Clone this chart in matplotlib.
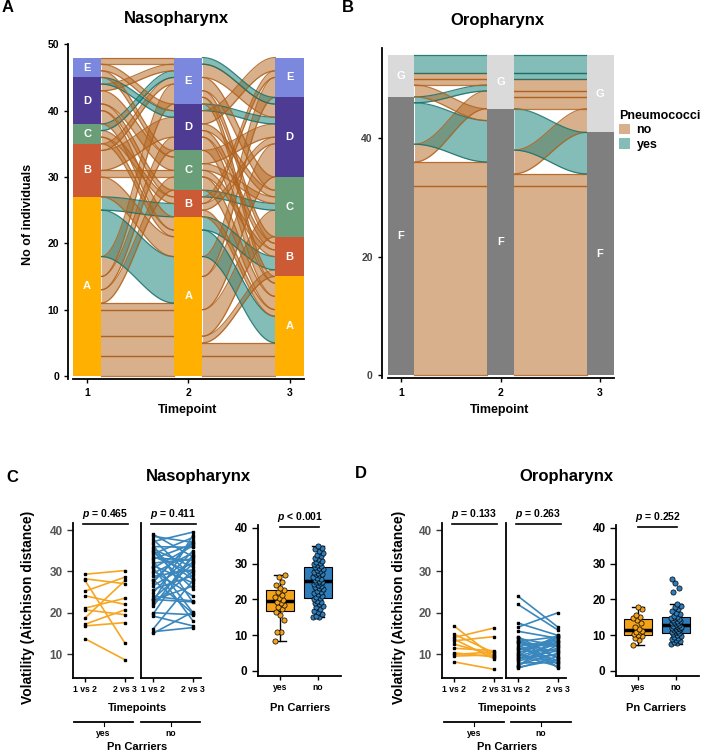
import numpy as np
import matplotlib
matplotlib.use("Agg")
import matplotlib.pyplot as plt
from matplotlib.patches import Patch

plt.rcParams["font.family"] = ["Liberation Sans", "DejaVu Sans"]
plt.rcParams["font.weight"] = "bold"
plt.rcParams["mathtext.fontset"] = "custom"
plt.rcParams["mathtext.rm"] = "Liberation Sans:bold"
plt.rcParams["mathtext.it"] = "Liberation Sans:italic:bold"

W, H = 708, 752

# ---- alluvial data (panels A, B) ----
timepoints = [1, 2, 3]
naso_strata = ["A", "B", "C", "D", "E"]
naso_counts = [[27, 8, 3, 7, 3], [24, 4, 6, 7, 7], [15, 6, 9, 12, 6]]
naso_flows_12 = [
    ("A", "A", "no", 3), ("A", "A", "no", 3), ("A", "A", "no", 4), ("A", "A", "no", 1),
    ("A", "C", "no", 2), ("A", "D", "no", 2), ("A", "E", "no", 3),
    ("A", "A", "yes", 7), ("A", "B", "yes", 2),
    ("B", "A", "no", 3), ("B", "C", "no", 1), ("B", "D", "no", 3), ("B", "E", "no", 1),
    ("C", "A", "no", 1), ("C", "B", "no", 1), ("C", "E", "yes", 1),
    ("D", "A", "no", 2), ("D", "B", "no", 1), ("D", "C", "no", 2), ("D", "E", "no", 1), ("D", "D", "yes", 1),
    ("E", "C", "no", 1), ("E", "D", "no", 1), ("E", "E", "no", 1),
]
naso_flows_23 = [
    ("A", "A", "no", 3), ("A", "A", "no", 2), ("A", "B", "no", 1), ("A", "C", "no", 4),
    ("A", "D", "no", 5), ("A", "E", "no", 3),
    ("A", "A", "yes", 4), ("A", "B", "yes", 2),
    ("B", "A", "no", 1), ("B", "C", "yes", 1), ("B", "D", "no", 1), ("B", "E", "no", 1),
    ("C", "A", "no", 2), ("C", "B", "no", 1), ("C", "C", "no", 1), ("C", "D", "no", 2),
    ("D", "A", "no", 2), ("D", "B", "no", 1), ("D", "C", "no", 1), ("D", "D", "yes", 1), ("D", "E", "no", 2),
    ("E", "A", "no", 1), ("E", "B", "no", 1), ("E", "C", "no", 2), ("E", "D", "no", 2), ("E", "D", "yes", 1),
]
oro_strata = ["F", "G"]
oro_counts = [[47, 7], [45, 9], [41, 13]]
oro_flows_12 = [
    ("F", "F", "no", 32), ("F", "F", "no", 4), ("F", "G", "no", 3),
    ("F", "F", "yes", 7), ("F", "G", "yes", 1),
    ("G", "F", "no", 2), ("G", "G", "no", 1), ("G", "G", "no", 1), ("G", "G", "yes", 3),
]
oro_flows_23 = [
    ("F", "F", "no", 32), ("F", "F", "no", 2), ("F", "G", "no", 4), ("F", "F", "yes", 7),
    ("G", "G", "no", 2), ("G", "G", "no", 1), ("G", "G", "no", 2),
    ("G", "G", "yes", 1), ("G", "G", "yes", 3),
]

# ---- volatility data (panels C, D) ----
naso_yes_12 = [29.3, 28.2, 27.8, 25.2, 24.1, 21.1, 20.7, 18.7, 17.2, 16.8, 13.7]
naso_yes_23 = [30.2, 27.0, 12.6, 28.6, 22.0, 23.5, 19.5, 27.8, 20.7, 17.6, 8.6]
naso_no_12 = [39.0, 38.5, 37.8, 37.2, 36.5, 36.0, 35.4, 34.8, 34.2, 33.6,
              33.0, 32.5, 32.0, 31.4, 30.8, 30.2, 29.5, 28.8, 28.0, 27.3,
              26.5, 25.6, 24.8, 24.0, 23.4, 23.0, 22.6, 22.2, 21.5, 20.0,
              19.6, 19.2, 16.0, 15.4, 15.0, 35.0, 33.3, 31.0, 27.8, 23.2]
naso_no_23 = [33.5, 37.0, 28.5, 39.5, 22.5, 35.8, 31.0, 25.8, 38.2, 29.6,
              36.6, 20.0, 33.0, 27.2, 36.2, 24.0, 34.5, 30.4, 19.8, 37.5,
              32.2, 29.0, 35.0, 22.8, 31.8, 26.5, 38.8, 30.0, 34.0, 19.5,
              33.8, 16.8, 27.8, 16.4, 20.2, 28.0, 32.6, 18.0, 36.9, 22.6]
oro_yes_12 = [16.8, 14.8, 14.0, 13.6, 13.2, 12.4, 11.4, 10.3, 9.9, 9.5, 8.1]
oro_yes_23 = [9.3, 10.3, 16.3, 8.9, 14.2, 9.8, 10.8, 9.3, 10.5, 9.8, 6.3]
oro_no_12 = [24.0, 22.0, 17.5, 16.5, 15.5, 14.2, 13.8, 13.5, 13.0, 12.6,
             12.2, 11.8, 11.5, 11.0, 10.6, 10.2, 9.8, 9.4, 9.0, 8.6,
             8.2, 7.8, 7.4, 7.0, 6.6, 14.0, 12.9, 11.2, 10.0, 8.8, 7.2, 13.2, 9.6, 6.8]
oro_no_23 = [16.5, 15.8, 14.5, 20.0, 13.8, 9.0, 12.0, 7.5, 14.2, 10.5,
             6.8, 13.5, 8.4, 12.8, 11.0, 14.0, 7.0, 12.5, 9.8, 13.0,
             11.5, 8.0, 10.2, 14.4, 9.4, 6.6, 11.8, 13.2, 7.8, 10.8, 12.2, 9.0, 14.6, 8.6]

naso_box_yes = [8.3, 10.8, 11.0, 14.3, 15.7, 16.6, 17.3, 18.0, 18.5, 19.0, 19.4,
                19.9, 20.4, 20.8, 21.3, 22.2, 22.7, 23.2, 24.1, 25.0, 26.4, 26.9]
naso_box_no = [15.0, 15.2, 15.5, 16.0, 16.4, 16.9, 17.3, 17.8, 18.2, 18.6, 19.0, 19.4, 19.7, 20.0, 20.3,
               20.6, 21.0, 21.4, 21.8, 22.1, 22.4, 22.8, 23.1, 23.4, 23.7, 24.0, 24.3, 24.5, 24.8, 25.0,
               25.2, 25.5, 25.8, 26.1, 26.4, 26.7, 27.0, 27.2, 27.5, 27.8, 28.0, 28.3, 28.5, 28.8, 29.0,
               29.3, 29.6, 29.9, 30.2, 30.5, 30.8, 31.2, 31.6, 32.0, 32.5, 33.0, 33.5, 34.0, 34.5, 35.0]
oro_box_yes = [7.3, 8.6, 9.2, 9.8, 10.0, 10.3, 10.8, 11.0, 11.3, 11.6, 12.4, 13.3,
               14.2, 14.8, 15.2, 15.6, 17.4, 17.8]
oro_box_no = [7.5, 7.7, 8.0, 8.3, 8.6, 8.9, 9.2, 9.5, 9.8, 10.1, 10.4, 10.6,
              10.8, 11.0, 11.2, 11.4, 11.6, 11.8, 12.0, 12.1, 12.3, 12.4, 12.6, 12.7,
              12.9, 13.1, 13.3, 13.5, 13.7, 13.9, 14.1, 14.3, 14.5, 14.7, 14.9, 15.0,
              15.4, 15.8, 16.3, 16.8, 17.3, 17.8, 18.3, 18.8, 22.0, 23.2, 24.6, 25.7]

p_labels_naso = ["0.465", "0.411", "< 0.001"]
p_labels_oro = ["0.133", "0.263", "0.252"]
pair_ticks = ["1 vs 2", "2 vs 3"]
carrier_labels = ["yes", "no"]

stratum_colors = {"A": "#FFB000", "B": "#CC5A35", "C": "#6A9E78", "D": "#4E3C94",
                  "E": "#7B88DD", "F": "#7F7F7F", "G": "#DADADA"}
flow_colors = {"no": "#B8712E", "yes": "#1F857C"}
edge_colors = {"no": "#B0621F", "yes": "#16706A"}
FLOW_ALPHA = 0.55
YES_COL = "#F5A21B"
NO_COL = "#2E7DBA"
YES_LINE = "#F6A623"
NO_LINE = "#3A87BD"


def px_axes(fig, left, top, right, bottom):
    return fig.add_axes([left / W, 1 - bottom / H, (right - left) / W, (bottom - top) / H])


def ftext(fig, x, y, s, **kw):
    kw.setdefault("ha", "center")
    kw.setdefault("va", "center")
    kw.setdefault("fontweight", "bold")
    return fig.text(x / W, 1 - y / H, s, **kw)


def alluvial(ax, strata, counts, segments, width, tick_color):
    bottoms = []
    for cnt in counts:
        b = np.concatenate([[0], np.cumsum(cnt)[:-1]])
        bottoms.append(dict(zip(strata, b)))
    t = np.linspace(0, 1, 60)
    s = 0.5 - 0.5 * np.cos(np.pi * t)
    status_rank = {"no": 0, "yes": 1}
    for seg, flows in enumerate(segments):
        xl = timepoints[seg] + width / 2
        xr = timepoints[seg + 1] - width / 2
        xs = xl + (xr - xl) * t
        left_pos, right_pos = {}, {}
        cur = dict(bottoms[seg])
        for k in sorted(range(len(flows)), key=lambda k: (status_rank[flows[k][2]], strata.index(flows[k][1]))):
            src = flows[k][0]
            left_pos[k] = cur[src]
            cur[src] += flows[k][3]
        cur = dict(bottoms[seg + 1])
        for k in sorted(range(len(flows)), key=lambda k: (strata.index(flows[k][0]), status_rank[flows[k][2]])):
            dst = flows[k][1]
            right_pos[k] = cur[dst]
            cur[dst] += flows[k][3]
        for k, (src, dst, st, n) in enumerate(flows):
            lo = left_pos[k] + (right_pos[k] - left_pos[k]) * s
            hi = lo + n
            ax.fill_between(xs, lo, hi, color=flow_colors[st], alpha=FLOW_ALPHA, lw=0)
            ax.plot(xs, lo, color=edge_colors[st], lw=0.9, alpha=0.85)
            ax.plot(xs, hi, color=edge_colors[st], lw=0.9, alpha=0.85)
    for i, cnt in enumerate(counts):
        for name, c in zip(strata, cnt):
            b = bottoms[i][name]
            ax.bar(timepoints[i], c, bottom=b, width=width, color=stratum_colors[name], lw=0, zorder=3)
            ax.text(timepoints[i], b + c / 2, name, color="white", ha="center", va="center",
                    fontsize=8, fontweight="bold", zorder=4)
    for sp in ["top", "right"]:
        ax.spines[sp].set_visible(False)
    ax.spines["left"].set_linewidth(1.3)
    ax.spines["bottom"].set_linewidth(1.3)
    ax.spines["bottom"].set_bounds(timepoints[0] - width / 2, timepoints[-1] + width / 2)
    ax.set_xticks(timepoints)
    ax.set_xticklabels([str(x) for x in timepoints])
    ax.tick_params(axis="both", length=3, width=1, labelsize=7.5, colors="black")
    ax.tick_params(axis="y", labelcolor=tick_color)


def paired(ax_yes, ax_no, y12, y23, n12, n23, pl):
    for ax, a12, a23, col, p in [(ax_yes, y12, y23, YES_LINE, pl[0]), (ax_no, n12, n23, NO_LINE, pl[1])]:
        for a, b in zip(a12, a23):
            ax.plot([1, 2], [a, b], color=col, lw=1.2, zorder=2)
        ax.plot([1] * len(a12), a12, "s", color="black", ms=1.8, zorder=3)
        ax.plot([2] * len(a23), a23, "s", color="black", ms=1.8, zorder=3)
        ax.set_xlim(0.7, 2.2)
        ax.set_ylim(4.2, 41.7)
        ax.set_xticks([1, 2])
        ax.set_xticklabels(pair_ticks)
        ax.tick_params(axis="x", length=3, width=1, labelsize=6.2, pad=2)
        for sp in ["top", "right"]:
            ax.spines[sp].set_visible(False)
        ax.spines["left"].set_linewidth(1.3)
        ax.spines["bottom"].set_linewidth(1.3)
        ax.plot([0.95, 2.07], [41.45, 41.45], color="black", lw=1.2, clip_on=False)
        ax.text(1.51, 42.2, r"$\mathit{p}$ = " + p, ha="center", va="bottom", fontsize=7.5,
                fontweight="bold")
    ax_yes.set_yticks([10, 20, 30, 40])
    ax_yes.tick_params(axis="y", length=4, width=1, labelsize=8.5, labelcolor="#555555", color="#333333")
    ax_no.set_yticks([])


def boxes(ax, yes, no, p):
    data = [yes, no]
    bp = ax.boxplot(data, positions=[1, 2], widths=0.75, patch_artist=True, showfliers=False,
                    capwidths=0.32,
                    medianprops=dict(color="black", lw=2.5),
                    whiskerprops=dict(color="black", lw=1),
                    capprops=dict(color="black", lw=1),
                    boxprops=dict(edgecolor="black", lw=0.8))
    for patch, col in zip(bp["boxes"], [YES_COL, NO_COL]):
        patch.set_facecolor(col)
    for i, (vals, col) in enumerate(zip(data, [YES_COL, NO_COL])):
        vals = np.asarray(vals)
        offs = ((np.arange(len(vals)) * 0.618034) % 1.0 - 0.5) * 0.26
        ax.scatter(i + 1 + offs, vals, s=14, facecolor=col, edgecolor="black", lw=0.5, zorder=4)
    ax.set_xlim(0.42, 2.6)
    ax.set_ylim(-1.4, 40.8)
    ax.set_yticks([0, 10, 20, 30, 40])
    ax.set_xticks([1, 2])
    ax.set_xticklabels(carrier_labels)
    ax.tick_params(axis="x", length=3, width=1, labelsize=6.2, pad=2)
    ax.tick_params(axis="y", length=4, width=1, labelsize=8.5)
    for sp in ["top", "right"]:
        ax.spines[sp].set_visible(False)
    ax.spines["left"].set_linewidth(1.3)
    ax.spines["bottom"].set_linewidth(1.3)
    ax.plot([1.0, 2.03], [40.3, 40.3], color="black", lw=1.2, clip_on=False)
    ax.text(1.52, 41.0, r"$\mathit{p}$ " + ("= " + p if not p.startswith("<") else p),
            ha="center", va="bottom", fontsize=7.5, fontweight="bold")


fig = plt.figure(figsize=(W / 100, H / 100), dpi=100)
fig.patch.set_facecolor("white")

# Panel A
axA = px_axes(fig, 68, 44.3, 309.75, 379.3)
alluvial(axA, naso_strata, naso_counts, [naso_flows_12, naso_flows_23], 0.28, "black")
axA.set_xlim(0.812, 3.2)
axA.set_ylim(-0.5, 50)
axA.set_yticks([0, 10, 20, 30, 40, 50])
ftext(fig, 8, 8, "A", fontsize=12)
ftext(fig, 176, 18, "Nasopharynx", fontsize=12)
ftext(fig, 28, 214, "No of individuals", fontsize=9, rotation=90)
ftext(fig, 188, 410, "Timepoint", fontsize=9)

# Panel B
axB = px_axes(fig, 381.7, 47.8, 620, 378.5)
alluvial(axB, oro_strata, oro_counts, [oro_flows_12, oro_flows_23], 0.27, "#444444")
axB.set_xlim(0.806, 3.2)
axB.set_ylim(-0.6, 55.3)
axB.set_yticks([0, 20, 40])
ftext(fig, 348, 8, "B", fontsize=12)
ftext(fig, 497, 20, "Oropharynx", fontsize=12)
ftext(fig, 500, 410, "Timepoint", fontsize=9)
handles = [Patch(facecolor=flow_colors[k], alpha=FLOW_ALPHA, edgecolor="none", label=k) for k in ["no", "yes"]]
fig.legend(handles=handles, title="Pneumococci", loc="upper left", bbox_to_anchor=(619 / W, 1 - 110 / H),
           frameon=False, prop={"weight": "bold", "size": 9},
           title_fontproperties={"weight": "bold", "size": 9},
           handlelength=0.9, handleheight=0.9, handletextpad=0.5, labelspacing=0.15,
           borderpad=0, borderaxespad=0, alignment="left")

# Panel C
axCy = px_axes(fig, 73, 523, 133, 678)
axCn = px_axes(fig, 141, 523, 201, 678)
paired(axCy, axCn, naso_yes_12, naso_yes_23, naso_no_12, naso_no_23, p_labels_naso)
axCb = px_axes(fig, 258, 525, 341, 676)
boxes(axCb, naso_box_yes, naso_box_no, p_labels_naso[2])
ftext(fig, 12, 477, "C", fontsize=12)
ftext(fig, 198, 477, "Nasopharynx", fontsize=12)
ftext(fig, 28, 607, "Volatility (Aitchison distance)", fontsize=10, rotation=90)

# Panel D
axDy = px_axes(fig, 442, 523, 502, 678)
axDn = px_axes(fig, 506, 523, 566, 678)
paired(axDy, axDn, oro_yes_12, oro_yes_23, oro_no_12, oro_no_23, p_labels_oro)
axDb = px_axes(fig, 616, 525, 699, 676)
boxes(axDb, oro_box_yes, oro_box_no, p_labels_oro[2])
ftext(fig, 361, 473, "D", fontsize=12)
ftext(fig, 566, 477, "Oropharynx", fontsize=12)
ftext(fig, 399, 607, "Volatility (Aitchison distance)", fontsize=10, rotation=90)

# group annotations under the paired plots
for (gy0, gy1, gn0, gn1, bx) in [(74, 133, 141, 200, 300), (444, 504, 511, 571, 656)]:
    ftext(fig, (gy0 + gn1) / 2, 708, "Timepoints", fontsize=8)
    ftext(fig, bx, 708, "Pn Carriers", fontsize=8)
    for a, b, lab in [(gy0, gy1, carrier_labels[0]), (gn0, gn1, carrier_labels[1])]:
        fig.add_artist(plt.Line2D([a / W, b / W], [1 - 722 / H, 1 - 722 / H], color="black", lw=1.3))
        m = (a + b) / 2
        fig.add_artist(plt.Line2D([m / W, m / W], [1 - 722 / H, 1 - 726 / H], color="black", lw=0.8))
        ftext(fig, m, 734, lab, fontsize=6.2)
    ftext(fig, (gy0 + gn1) / 2, 747, "Pn Carriers", fontsize=8)

fig.savefig("out.png", dpi=100)
